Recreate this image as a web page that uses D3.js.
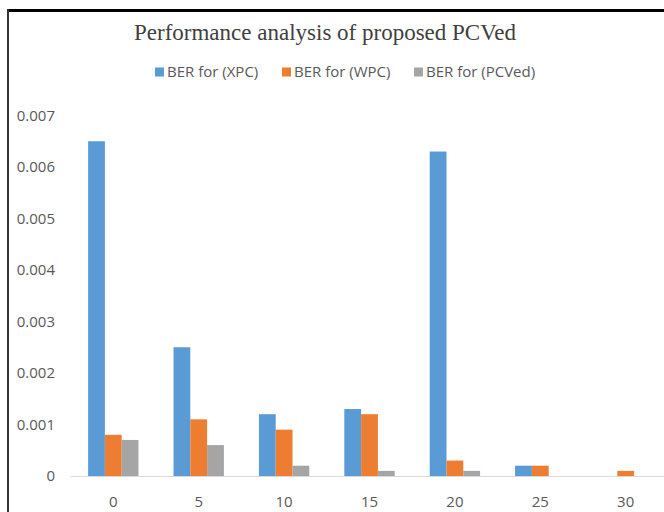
<!DOCTYPE html>
<html>
<head>
<meta charset="utf-8">
<script src="https://cdn.jsdelivr.net/npm/d3@7"></script>
<style>
  html, body { margin: 0; padding: 0; background: #fff; }
  svg { display: block; }
</style>
</head>
<body>
<svg id="chart" width="664" height="512"></svg>
<script>
const categories = ["0", "5", "10", "15", "20", "25", "30"];
const seriesNames = ["BER for (XPC)", "BER for (WPC)", "BER for (PCVed)"];
const xpc   = [0.0065, 0.0025, 0.0012, 0.0013, 0.0063, 0.0002, 0];
const wpc   = [0.0008, 0.0011, 0.0009, 0.0012, 0.0003, 0.0002, 0.0001];
const pcved = [0.0007, 0.0006, 0.0002, 0.0001, 0.0001, 0, 0];
const yTicks = [0, 0.001, 0.002, 0.003, 0.004, 0.005, 0.006, 0.007];
const colors = ["#5B9BD5", "#ED7D31", "#A5A5A5"];
const title = "Performance analysis of proposed PCVed";

const series = [xpc, wpc, pcved];
const svg = d3.select("#chart");

// frame
svg.append("line").attr("x1", 7).attr("x2", 664).attr("y1", 10.5).attr("y2", 10.5)
  .attr("stroke", "#000").attr("stroke-width", 3);
svg.append("line").attr("x1", 8).attr("x2", 8).attr("y1", 9).attr("y2", 512)
  .attr("stroke", "#333").attr("stroke-width", 2);

// title
svg.append("text").attr("x", 325).attr("y", 40).attr("text-anchor", "middle")
  .attr("font-family", "Liberation Serif, Times New Roman, serif")
  .attr("font-size", 23).attr("fill", "#404040").text(title);

const x0 = d3.scaleBand().domain(categories).range([70.6, 668.4]).paddingInner(0.41).paddingOuter(0.205);
const x1 = d3.scaleBand().domain(d3.range(series.length)).range([0, x0.bandwidth()]);
const y = d3.scaleLinear().domain([0, 0.007]).range([476, 115.5]);

// bars
const groups = svg.append("g").selectAll("g").data(categories).join("g")
  .attr("transform", d => `translate(${x0(d)},0)`);
groups.selectAll("rect")
  .data((d, i) => series.map((s, k) => ({k, v: s[i]})))
  .join("rect")
  .attr("x", d => x1(d.k))
  .attr("width", x1.bandwidth())
  .attr("y", d => y(d.v))
  .attr("height", d => y(0) - y(d.v))
  .attr("fill", d => colors[d.k]);

// baseline
svg.append("line").attr("x1", 70.6).attr("x2", 668).attr("y1", y(0) + 0.5).attr("y2", y(0) + 0.5)
  .attr("stroke", "#D9D9D9").attr("stroke-width", 1);

// y axis labels
const yAxis = d3.axisLeft(y).tickValues(yTicks).tickSize(0).tickPadding(0)
  .tickFormat(d => d === 0 ? "0" : d3.format(".3f")(d));
const ya = svg.append("g").attr("transform", "translate(55,0)").call(yAxis);
ya.select(".domain").remove();
ya.selectAll("text").attr("font-family", "Open Sans, sans-serif").attr("font-size", 15).attr("fill", "#595959");

// x axis labels
const xAxis = d3.axisBottom(x0).tickSize(0).tickPadding(0);
const xa = svg.append("g").attr("transform", "translate(0,496)").call(xAxis);
xa.select(".domain").remove();
xa.selectAll("text").attr("font-family", "Open Sans, sans-serif").attr("font-size", 15).attr("fill", "#595959");

// legend
const legendX = [155, 282, 414];
const lg = svg.append("g").selectAll("g").data(seriesNames).join("g")
  .attr("transform", (d, i) => `translate(${legendX[i]},72)`);
lg.append("rect").attr("x", 0).attr("y", -4.5).attr("width", 9).attr("height", 9)
  .attr("fill", (d, i) => colors[i]);
lg.append("text").attr("x", 12).attr("y", 0).attr("dy", "0.35em")
  .attr("font-family", "Open Sans, sans-serif").attr("font-size", 15).attr("fill", "#595959")
  .text(d => d);
</script>
</body>
</html>
